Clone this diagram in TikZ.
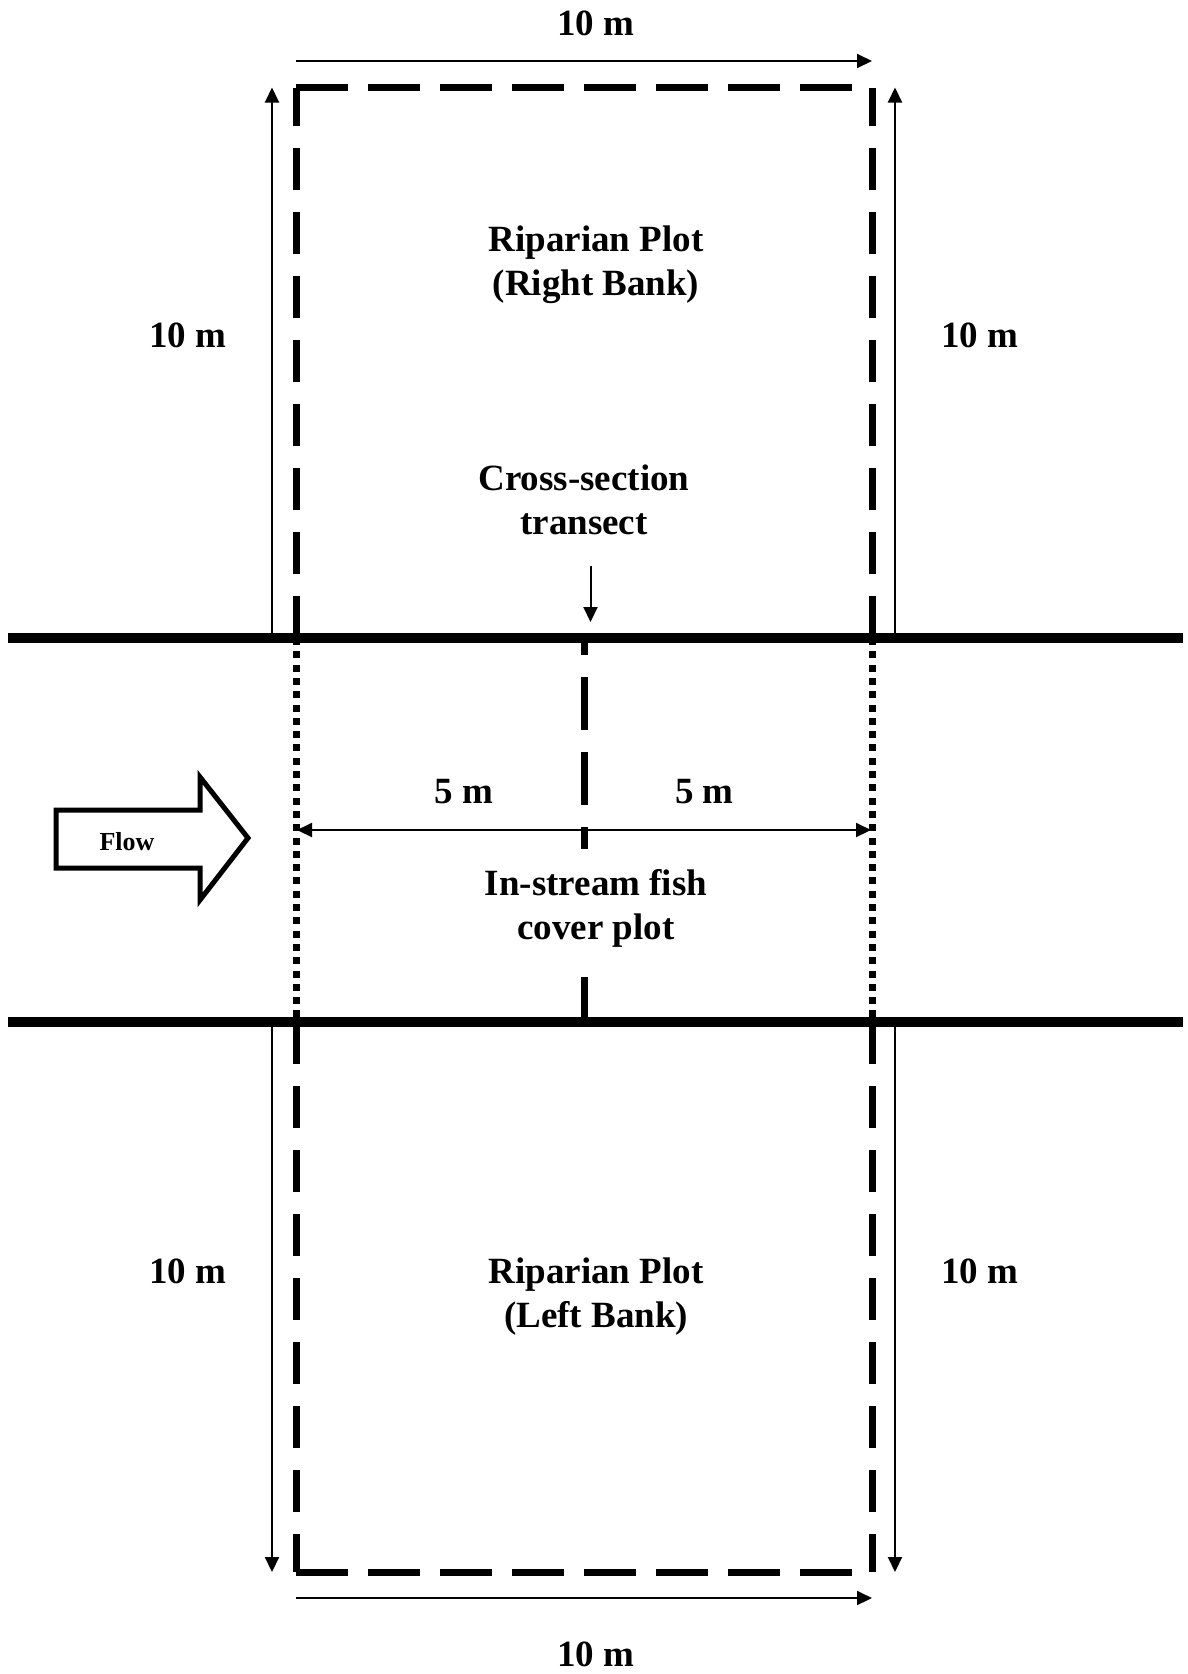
\documentclass[tikz,border=0pt]{standalone}
\usepackage{fontspec}
\setmainfont{Liberation Serif}
\usetikzlibrary{arrows.meta}
\begin{document}
\begin{tikzpicture}[x=1pt,y=-1pt,
  lbl/.style={font=\fontsize{37}{44}\selectfont\bfseries,align=center,inner sep=0pt},
  bank/.style={line width=10pt},
  plotedge/.style={line width=7pt,dash pattern=on 42pt off 22pt},
  plotedgeh/.style={line width=7pt,dash pattern=on 52pt off 20pt},
  dotline/.style={line width=7pt,dash pattern=on 7pt off 6.3pt},
  transline/.style={line width=7pt,dash pattern=on 53pt off 22pt,dash phase=36pt},
  dim/.style={line width=2pt,-{Triangle[length=15pt,width=14pt]}},
  dimboth/.style={line width=2pt,{Triangle[length=15pt,width=14pt]}-{Triangle[length=15pt,width=14pt]}}]
\useasboundingbox (0,0) rectangle (1187,1674);
% coordinates
\coordinate (BL1) at (8,638); \coordinate (BR1) at (1183,638);
\coordinate (BL2) at (8,1022); \coordinate (BR2) at (1183,1022);
\coordinate (A) at (296,638); \coordinate (B) at (872,638);
\coordinate (C) at (296,1022); \coordinate (D) at (872,1022);
\coordinate (TL) at (296,87.5); \coordinate (TR) at (872,87.5);
\coordinate (LL) at (296,1572); \coordinate (LR) at (872,1572);
\coordinate (M1) at (584,638); \coordinate (M2) at (584,1022);
% bank lines
\draw[bank] (BL1) -- (BR1);
\draw[bank] (BL2) -- (BR2);
% upper plot
\draw[plotedge] (A) -- (TL);
\draw[plotedgeh] (TL) -- (TR);
\draw[plotedge] (B) -- (TR);
% lower plot
\draw[plotedge] (C) -- (LL);
\draw[plotedgeh] (LL) -- (LR);
\draw[plotedge] (D) -- (LR);
% in-stream dotted lines
\draw[dotline] (A) -- (C);
\draw[dotline] (B) -- (D);
% transect
\draw[transline] (M1) -- (M2);
% dimension arrows
\coordinate (ta1) at (296,61); \coordinate (ta2) at (872,61);
\draw[dim] (ta1) -- (ta2);
\coordinate (ba1) at (296,1598); \coordinate (ba2) at (872,1598);
\draw[dim] (ba1) -- (ba2);
\coordinate (lu1) at (272,633); \coordinate (lu2) at (272,87.5);
\draw[dim] (lu1) -- (lu2);
\coordinate (ru1) at (895,633); \coordinate (ru2) at (895,87.5);
\draw[dim] (ru1) -- (ru2);
\coordinate (ld1) at (272,1027); \coordinate (ld2) at (272,1572);
\draw[dim] (ld1) -- (ld2);
\coordinate (rd1) at (895,1027); \coordinate (rd2) at (895,1572);
\draw[dim] (rd1) -- (rd2);
\coordinate (h1) at (297,830); \coordinate (h2) at (871,830);
\draw[dimboth] (h1) -- (h2);
\coordinate (tr1) at (590.5,566); \coordinate (tr2) at (590.5,622);
\draw[dim] (tr1) -- (tr2);
% flow arrow
\draw[line width=5pt,line join=miter] (56,810) -- (200,810) -- (200,777) -- (248,838) -- (200,900) -- (200,868) -- (56,868) -- cycle;
\node[font=\fontsize{26}{30}\selectfont\bfseries,inner sep=0pt] (flow) at (127,842) {Flow};
% labels
\node[lbl] (ttop) at (596,23.5) {10 m};
\node[lbl] (tbot) at (596,1654.5) {10 m};
\node[lbl] (tlu) at (188,335) {10 m};
\node[lbl] (tru) at (980,335) {10 m};
\node[lbl] (tld) at (188,1271) {10 m};
\node[lbl] (trd) at (980,1271) {10 m};
\node[lbl] (rpr) at (596,265) {Riparian Plot\\(Right Bank)};
\node[lbl] (rpl) at (596,1296.5) {Riparian Plot\\(Left Bank)};
\node[lbl] (cst) at (584,500) {Cross-section\\transect};
\node[lbl,fill=white,inner ysep=20pt,inner xsep=4pt] (isf) at (596,908) {In-stream fish\\cover plot};
\node[lbl] (f1) at (464,792) {5 m};
\node[lbl] (f2) at (704.5,792) {5 m};
\end{tikzpicture}
\end{document}
